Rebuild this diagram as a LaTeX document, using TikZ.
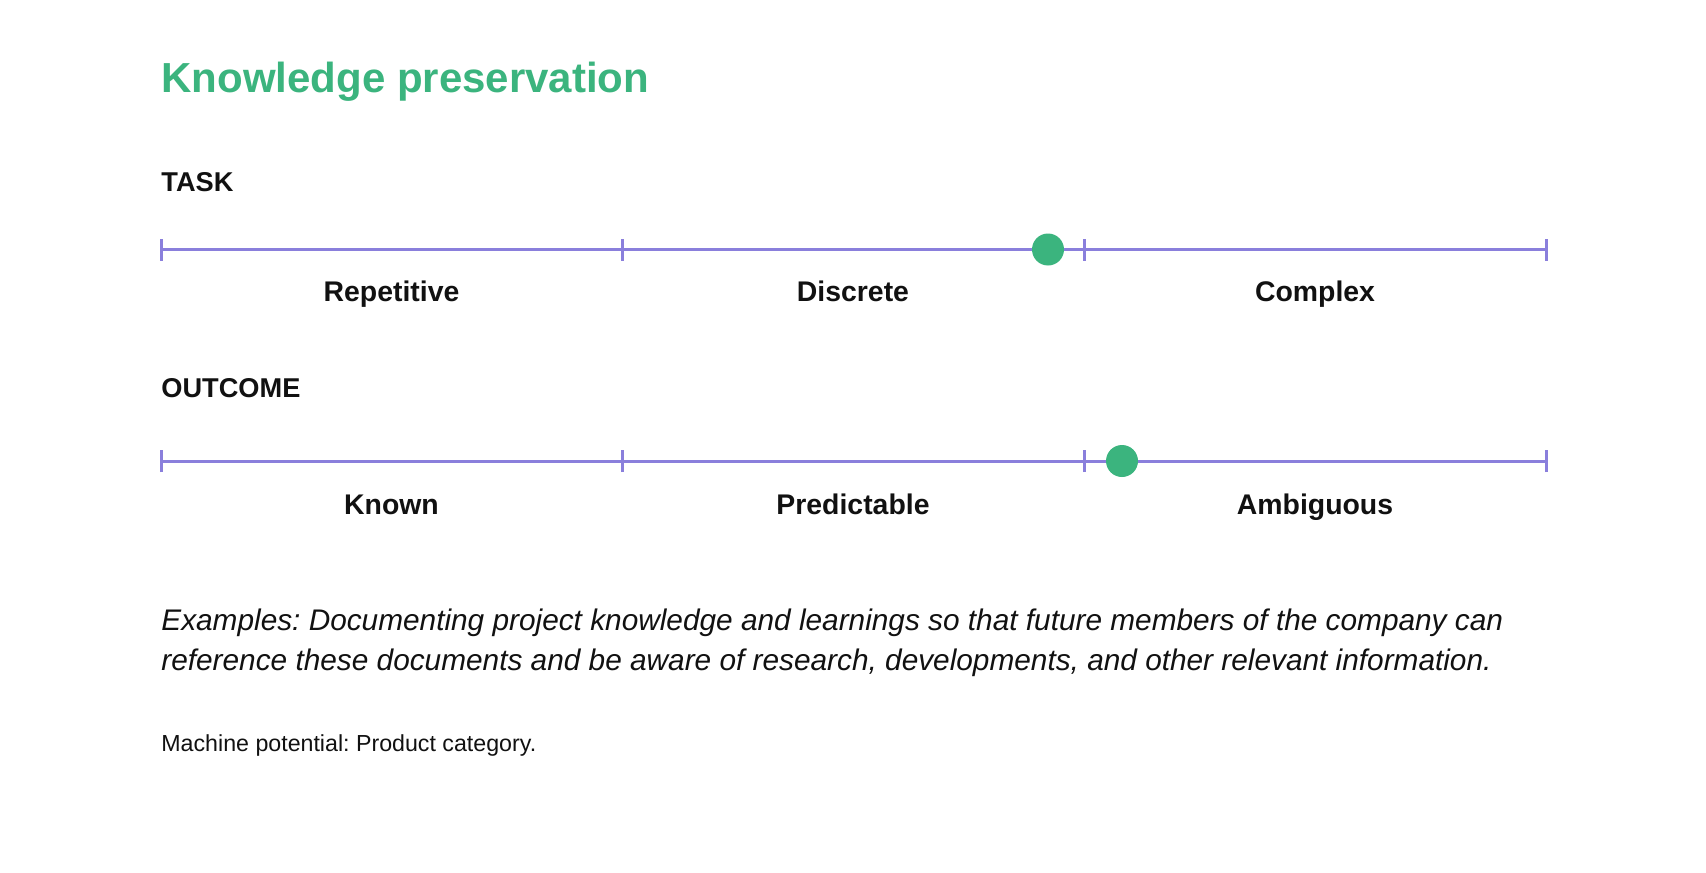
\documentclass[tikz,border=0pt]{standalone}
\usepackage{fontspec}
\setmainfont{Liberation Sans}
\usetikzlibrary{positioning,calc}
\definecolor{accent}{HTML}{3BB47E}
\definecolor{scaleline}{HTML}{8A7FDC}
\definecolor{ink}{HTML}{111111}
\frenchspacing
\tikzset{
  heading/.style={anchor=base west, inner sep=0pt, text=accent,
    font=\bfseries\fontsize{21}{26}\selectfont},
  axislabel/.style={anchor=base west, inner sep=0pt, text=ink,
    font=\bfseries\fontsize{13.6}{16}\selectfont},
  segtext/.style={anchor=base, inner sep=0pt, text=ink,
    font=\bfseries\fontsize{14.2}{16}\selectfont},
  axisline/.style={draw=scaleline, line width=1.5pt},
  marker/.style={circle, fill=accent, inner sep=0pt, minimum size=16pt},
  bodytext/.style={anchor=base west, inner sep=0pt, text=ink,
    font=\itshape\fontsize{14.9}{20}\selectfont},
  smalltext/.style={anchor=base west, inner sep=0pt, text=ink,
    font=\fontsize{11.6}{13}\selectfont}
}

\begin{document}
\begin{tikzpicture}[x=0.5pt, y=-0.5pt]
  \useasboundingbox[fill=white] (0,0) rectangle (1706,872);

  \node[heading] (title) at (161,93) {Knowledge preservation};

  % task scale
  \node[axislabel] (task) at (161,191) {TASK};
  \foreach \n/\x in {0/161,1/622,2/1084,3/1546}
    \coordinate (t\n) at (\x,249.5);
  \draw[axisline] (t0) -- (t3);
  \foreach \n in {0,...,3}
    \draw[axisline] ([yshift=-5.5pt]t\n) -- ([yshift=5.5pt]t\n);
  \node[segtext] (rep) at ($(t0)!0.5!(t1)+(0,52)$) {Repetitive};
  \node[segtext] (dis) at ($(t1)!0.5!(t2)+(0,52)$) {Discrete};
  \node[segtext] (cpx) at ($(t2)!0.5!(t3)+(0,52)$) {Complex};
  \node[marker] (taskdot) at (1048,249.5) {};

  % outcome scale
  \node[axislabel] (outcome) at (161,397.5) {OUTCOME};
  \foreach \n/\x in {0/161,1/622,2/1084,3/1546}
    \coordinate (o\n) at (\x,461);
  \draw[axisline] (o0) -- (o3);
  \foreach \n in {0,...,3}
    \draw[axisline] ([yshift=-5.5pt]o\n) -- ([yshift=5.5pt]o\n);
  \node[segtext] (known) at ($(o0)!0.5!(o1)+(0,53)$) {Known};
  \node[segtext] (pred) at ($(o1)!0.5!(o2)+(0,53)$) {Predictable};
  \node[segtext] (amb) at ($(o2)!0.5!(o3)+(0,53)$) {Ambiguous};
  \node[marker] (outdot) at (1122,461) {};

  \node[bodytext] (ex1) at (161,630) {Examples: Documenting project knowledge and learnings so that future members of the company can};
  \node[bodytext] (ex2) at (161,670) {reference these documents and be aware of research, developments, and other relevant information.};

  \node[smalltext] (machine) at (161,751) {Machine potential: Product category.};
\end{tikzpicture}
\end{document}
